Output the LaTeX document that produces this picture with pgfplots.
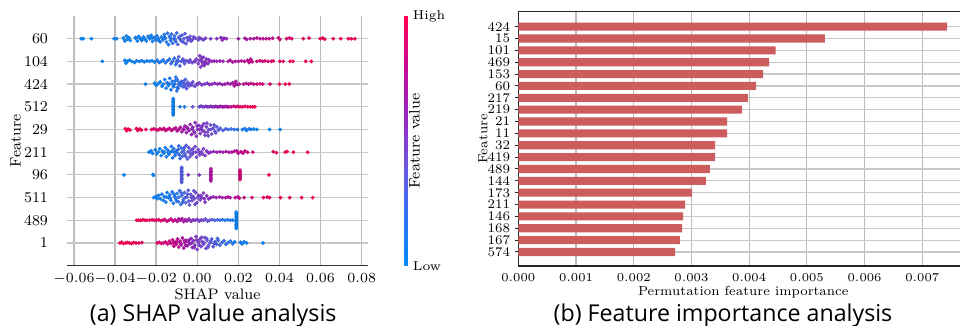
\documentclass[border=0pt]{standalone}
\usepackage{pgfplots}
\pgfplotsset{compat=1.18}
\usepackage{fontspec}
\newfontfamily\capfont{Open Sans}
\definecolor{barred}{RGB}{205,92,92}
\definecolor{gridc}{RGB}{188,188,188}
\definecolor{rowc}{RGB}{200,200,200}
\pgfplotsset{
 colormap={shap}{rgb255=(0,139,251) rgb255=(50,115,245) rgb255=(110,85,225) rgb255=(150,40,195) rgb255=(200,10,150) rgb255=(255,0,82)},
 sc/.style={scatter, only marks, scatter src=explicit, mark=*, mark size=0.9pt,
   mark options={line width=0.1pt}},
}
\begin{document}
\begin{tikzpicture}
\useasboundingbox (0,0) rectangle (480pt,163pt);
\begin{axis}[
 at={(33.5pt,30.15pt)}, anchor=south west, scale only axis,
 width=150.5pt, height=124.85pt,
 xmin=-0.0634, xmax=0.0831, ymin=-1, ymax=10,
 axis x line*=bottom, axis y line*=left,
 x axis line style={draw=black!80, line width=0.6pt, -},
 y axis line style={draw=none},
 xtick={-0.06,-0.04,-0.02,0,0.02,0.04,0.06,0.08},
 xticklabels={$-0.06$,$-0.04$,$-0.02$,$0.00$,$0.02$,$0.04$,$0.06$,$0.08$},
 scaled x ticks=false,
 ytick={0,...,9},
 yticklabels={1,489,511,96,211,29,512,424,104,60},
 xmajorgrids, ymajorgrids,
 major x grid style={gridc, line width=0.7pt},
 major y grid style={rowc, line width=0.6pt},
 tick style={draw=none},
 xticklabel style={font=\fontsize{6.6}{8}\selectfont, yshift=-0.2pt},
 yticklabel style={font=\fontsize{7.5}{9}\selectfont, xshift=-6pt},
 xlabel={SHAP value}, ylabel={Feature},
 xlabel style={font=\fontsize{7.6}{9}\selectfont, at={(axis description cs:0.5,-0.1145)}, anchor=center},
 ylabel style={font=\fontsize{7.5}{9}\selectfont, at={(axis description cs:-0.171,0.5)}, anchor=center},
 colormap name=shap, point meta min=0, point meta max=1,
 colorbar,
 colorbar style={
   at={(parent axis.south east)}, anchor=south west, xshift=9.5pt,
   scale only axis, width=1.85pt, height=124.85pt,
   axis line style={draw=none},
   ytick={0,1}, yticklabels={Low,High},
   yticklabel style={font=\fontsize{6.4}{8}\selectfont, xshift=-1pt},
   ytick style={draw=none},
   ylabel={Feature value},
   ylabel style={font=\fontsize{7.6}{9}\selectfont, at={(axis description cs:2.8,0.5)}, anchor=center},
 },
]
% feature 60
\addplot[sc] table[header=false, x index=0, y index=1, meta index=2]{
-0.0565 9 .02
-0.0555 9 .02
-0.0515 9 .02
-0.0405 9 .03
-0.0392 9 .03
-0.0360 9.03 .05
-0.0352 8.9 .05
-0.0345 9.12 .05
-0.0340 8.98 .05
-0.0333 9.05 .05
-0.0326 8.92 .05
-0.0300 9.02 .05
-0.0292 8.9 .06
-0.0285 9.1 .06
-0.0278 9 .06
-0.0270 8.92 .06
-0.0262 9.08 .06
-0.0255 9 .07
-0.0248 8.9 .07
-0.0240 9.1 .07
-0.0232 9 .07
-0.0225 9.15 .08
-0.0218 8.88 .08
-0.0210 9.05 .08
-0.0203 8.95 .08
-0.0196 9.12 .09
-0.0188 9 .09
-0.0181 8.86 .1
-0.0174 9.08 .1
-0.0167 8.95 .1
-0.0160 9.18 .12
-0.0155 9.02 .12
-0.0150 8.85 .12
-0.0145 9.24 .13
-0.0140 8.74 .14
-0.0135 9.1 .15
-0.0130 8.92 .15
-0.0125 9.2 .17
-0.0120 8.8 .18
-0.0115 9 .2
-0.0110 9.12 .22
-0.0105 8.88 .24
-0.0100 9.25 .26
-0.0095 8.75 .28
-0.0090 9.05 .3
-0.0082 8.95 .3
-0.0075 9.15 .32
-0.0068 8.85 .33
-0.0060 9.22 .34
-0.0055 8.78 .35
-0.0050 9.05 .36
-0.0045 8.92 .37
-0.0035 9.1 .38
-0.0025 8.95 .4
-0.0010 9.02 .42
0.0005 8.95 .44
0.0020 9 .46
0.0040 9.02 .48
0.0065 9 .52
0.0095 9 .55
0.0115 9.05 .58
0.0122 8.94 .58
0.0130 9.02 .6
0.0142 9 .6
0.0200 9 .66
0.0232 9.02 .7
0.0240 8.97 .7
0.0258 9 .72
0.0275 9 .73
0.0290 9.03 .75
0.0305 9 .76
0.0320 9 .77
0.0335 9 .78
0.0350 9 .8
0.0367 9.02 .82
0.0395 9.04 .85
0.0402 8.96 .85
0.0435 9 .88
0.0448 9.03 .9
0.0460 9 .9
0.0516 9 .93
0.0544 9.03 .95
0.0598 9 .96
0.0610 9.03 .97
0.0620 8.98 .97
0.0662 9 .98
0.0698 9 .99
0.0735 9 1
0.0750 9 1
0.0767 9 1
-0.0300 9.05 .05
-0.0270 8.97 .06
-0.0220 9.03 .08
-0.0190 8.93 .09
-0.0160 9.05 .11
-0.0130 9.02 .16
-0.0108 8.98 .23
-0.0085 9.1 .3
-0.0078 8.9 .31
-0.0065 9 .33
-0.0040 9 .37
-0.0030 8.9 .39
-0.0018 9.08 .41
0.0010 9.05 .45
0.0030 8.95 .47
};
% feature 104
\addplot[sc] table[header=false, x index=0, y index=1, meta index=2]{
-0.0462 8 .02
-0.0352 8.05 .04
-0.0348 7.92 .04
-0.0340 8 .05
-0.0330 8.05 .05
-0.0318 8 .05
-0.0305 7.95 .05
-0.0295 8.03 .06
-0.0282 8 .06
-0.0270 8.03 .06
-0.0258 7.98 .07
-0.0245 8.02 .07
-0.0232 8 .08
-0.0220 8.03 .08
-0.0208 7.97 .09
-0.0195 8.05 .1
-0.0185 7.95 .1
-0.0175 8 .11
-0.0165 8.06 .12
-0.0155 7.94 .13
-0.0145 8.02 .15
-0.0135 8.1 .17
-0.0128 7.9 .18
-0.0120 8 .2
-0.0112 8.14 .22
-0.0105 7.86 .24
-0.0098 8.05 .26
-0.0090 8.2 .28
-0.0085 7.8 .3
-0.0078 8 .32
-0.0070 8.1 .34
-0.0062 7.9 .36
-0.0055 8.03 .38
-0.0045 8 .4
-0.0035 8.06 .42
-0.0025 7.94 .44
-0.0015 8 .46
-0.0005 8.1 .48
0.0005 7.9 .5
0.0012 8.25 .52
0.0016 7.75 .52
0.0020 8.05 .52
0.0025 7.95 .53
0.0030 8.18 .54
0.0034 7.82 .54
0.0038 8 .55
0.0045 8.1 .56
0.0052 7.9 .57
0.0060 8.02 .58
0.0070 8 .6
0.0082 8.02 .62
0.0095 8 .63
0.0110 8.02 .64
0.0125 8 .66
0.0150 8 .7
0.0160 8.05 .7
0.0172 7.97 .72
0.0185 8 .73
0.0200 8 .75
0.0215 8.02 .76
0.0230 8 .78
0.0245 8.05 .8
0.0252 7.95 .8
0.0260 8.1 .82
0.0268 7.98 .82
0.0290 8 .85
0.0305 8.03 .86
0.0318 8 .88
0.0330 8.02 .88
0.0345 8 .9
0.0360 8 .91
0.0370 8.02 .92
0.0402 8 .94
0.0418 8 .95
0.0452 8 .96
0.0466 8 .97
0.0528 8 .99
0.0555 8 1
-0.0100 7.95 .25
-0.0092 8.02 .27
-0.0066 8 .35
-0.0040 7.96 .41
-0.0010 8 .47
0.0010 8.05 .51
0.0022 8.15 .53
0.0027 7.85 .53
0.0041 7.92 .55
0.0056 8.08 .57
0.0255 8.02 .81
};
% feature 424
\addplot[sc] table[header=false, x index=0, y index=1, meta index=2]{
-0.0252 7 .03
-0.0208 7.04 .04
-0.0200 6.94 .04
-0.0190 7.02 .05
-0.0180 7.1 .06
-0.0172 6.9 .06
-0.0165 7 .07
-0.0158 7.2 .08
-0.0152 6.82 .08
-0.0147 7.06 .09
-0.0140 6.94 .1
-0.0134 7.25 .1
-0.0128 6.75 .11
-0.0122 7.12 .12
-0.0116 6.88 .13
-0.0110 7 .14
-0.0104 7.3 .15
-0.0100 6.7 .16
-0.0096 7.18 .17
-0.0092 6.82 .18
-0.0088 7.05 .2
-0.0082 6.95 .22
-0.0076 7.12 .25
-0.0070 6.88 .27
-0.0064 7.02 .3
-0.0058 7.2 .32
-0.0052 6.8 .34
-0.0046 7.08 .36
-0.0040 6.92 .38
-0.0032 7 .4
-0.0022 7.1 .42
-0.0012 6.9 .44
-0.0002 7 .46
0.0010 7.05 .48
0.0022 6.97 .5
0.0035 7 .52
0.0048 7.04 .54
0.0060 6.98 .56
0.0072 7 .57
0.0085 7.03 .6
0.0098 7 .6
0.0110 7.02 .62
0.0122 6.98 .63
0.0135 7 .65
0.0148 7.03 .66
0.0160 7 .68
0.0172 7.06 .7
0.0180 6.92 .7
0.0188 7.12 .72
0.0195 6.98 .72
0.0205 7 .74
0.0225 7 .76
0.0238 7.03 .78
0.0250 7 .8
0.0262 7.03 .82
0.0275 7 .84
0.0290 7 .86
0.0305 7.02 .88
0.0318 7 .9
0.0354 7 .93
0.0400 7 .96
0.0428 7 .98
0.0448 7 1
-0.0136 7.02 .1
-0.0119 6.98 .12
-0.0106 7.15 .14
-0.0098 6.85 .16
-0.0090 6.98 .19
-0.0079 7.02 .24
-0.0067 7.1 .28
-0.0061 6.9 .31
-0.0049 6.98 .35
-0.0027 6.95 .41
0.0004 7 .47
0.0184 7 .71
};
% feature 512
\addplot[sc] table[header=false, x index=0, y index=1, meta index=2]{
-0.0117 5.64 .04
-0.0117 5.70 .04
-0.0117 5.76 .04
-0.0117 5.82 .04
-0.0117 5.88 .04
-0.0117 5.94 .04
-0.0117 6.00 .04
-0.0117 6.06 .04
-0.0117 6.12 .04
-0.0117 6.18 .04
-0.0117 6.24 .04
-0.0117 6.30 .04
-0.0117 6.36 .04
-0.0084 6 .08
-0.0062 6 .1
-0.0022 6 .4
0.0010 6 .45
0.0018 6.03 .46
0.0026 6 .47
0.0034 6 .48
0.0042 6.02 .5
0.0050 6 .52
0.0058 6 .53
0.0066 6.02 .55
0.0074 6 .56
0.0082 6 .58
0.0090 6.02 .6
0.0098 6 .62
0.0106 6 .63
0.0114 6.02 .65
0.0122 6 .67
0.0130 6 .68
0.0138 6.02 .7
0.0146 6 .72
0.0154 6 .75
0.0165 6 .8
0.0178 6.02 .85
0.0188 6 .88
0.0198 6.02 .9
0.0208 6 .92
0.0220 6 .93
0.0232 6.02 .95
0.0245 6 .96
0.0258 6 .97
0.0270 6 .98
0.0280 6 1
};
% feature 29
\addplot[sc] table[header=false, x index=0, y index=1, meta index=2]{
-0.0350 5.03 1
-0.0344 4.95 1
-0.0336 5.02 .99
-0.0328 4.98 .99
-0.0296 5.04 .98
-0.0290 4.96 .98
-0.0280 5.03 .97
-0.0272 4.98 .97
-0.0250 5 .95
-0.0222 5 .92
-0.0212 5.03 .91
-0.0202 5 .9
-0.0192 4.97 .89
-0.0182 5.03 .88
-0.0172 5 .87
-0.0162 5.05 .86
-0.0155 4.96 .85
-0.0145 5 .84
-0.0135 5.05 .83
-0.0125 4.96 .82
-0.0115 5.02 .8
-0.0105 5.07 .78
-0.0098 4.94 .77
-0.0090 5 .76
-0.0082 5.1 .74
-0.0075 4.9 .72
-0.0068 5.02 .7
-0.0060 5.15 .68
-0.0053 4.86 .66
-0.0046 5.05 .65
-0.0040 4.95 .63
-0.0034 5.22 .62
-0.0028 4.78 .6
-0.0022 5.1 .6
-0.0016 4.9 .58
-0.0010 5.3 .57
-0.0004 4.7 .56
0.0002 5 .55
0.0008 5.18 .54
0.0014 4.82 .53
0.0020 5.06 .52
0.0026 4.94 .51
0.0032 5.25 .5
0.0038 4.75 .49
0.0044 5.12 .48
0.0050 4.88 .47
0.0056 5 .46
0.0064 5.2 .44
0.0070 4.8 .42
0.0078 5.06 .4
0.0086 4.92 .38
0.0095 5.12 .36
0.0104 4.98 .34
0.0112 5.05 .32
0.0125 4.96 .3
0.0138 5.03 .28
0.0150 5 .25
0.0165 5.02 .22
0.0180 5 .2
0.0195 5 .16
0.0220 5 .12
0.0232 5.04 .1
0.0240 4.96 .08
0.0252 5.03 .07
0.0262 5 .06
0.0275 5.02 .05
0.0290 5 .04
0.0352 5 .03
0.0403 5 .02
-0.0064 5 .69
-0.0050 5.1 .65
-0.0025 5.02 .6
-0.0013 4.85 .57
-0.0001 5.15 .55
0.0011 5 .54
0.0023 5.15 .52
0.0035 4.9 .5
0.0047 5.28 .47
0.0053 4.72 .47
0.0067 5 .43
0.0082 5.2 .39
0.0090 4.85 .37
};
% feature 211
\addplot[sc] table[header=false, x index=0, y index=1, meta index=2]{
-0.0235 4 .03
-0.0225 4.06 .03
-0.0218 3.95 .04
-0.0205 4.1 .04
-0.0198 3.92 .05
-0.0190 4 .05
-0.0183 4.15 .06
-0.0176 3.85 .06
-0.0170 4.05 .07
-0.0163 3.95 .07
-0.0156 4.2 .08
-0.0150 3.8 .08
-0.0144 4.1 .09
-0.0138 3.9 .1
-0.0132 4 .11
-0.0126 4.25 .12
-0.0120 3.75 .13
-0.0114 4.15 .14
-0.0108 3.85 .15
-0.0102 4.05 .16
-0.0096 3.95 .18
-0.0090 4.28 .2
-0.0084 3.72 .22
-0.0078 4.18 .24
-0.0072 3.82 .26
-0.0066 4.08 .28
-0.0060 3.92 .3
-0.0054 4.3 .32
-0.0048 3.7 .34
-0.0042 4.2 .36
-0.0036 3.8 .38
-0.0030 4.1 .4
-0.0024 3.9 .42
-0.0018 4 .43
-0.0010 4.25 .44
-0.0004 3.78 .45
0.0004 4.12 .46
0.0012 3.88 .47
0.0020 4.02 .48
0.0030 4.15 .5
0.0038 3.85 .52
0.0046 4.05 .54
0.0055 3.96 .56
0.0065 4 .58
0.0080 4.03 .6
0.0095 4 .62
0.0110 4.02 .65
0.0125 4 .68
0.0140 4.03 .7
0.0155 4 .72
0.0168 4 .74
0.0180 4.04 .76
0.0192 4.06 .78
0.0200 3.95 .8
0.0212 4.02 .82
0.0222 3.96 .83
0.0232 4.05 .84
0.0245 4 .85
0.0270 4 .88
0.0370 4.02 .94
0.0385 3.98 .95
0.0428 4 .97
0.0437 4.03 .97
0.0468 4 .98
0.0537 4 1
-0.0160 4.02 .07
-0.0141 3.98 .1
-0.0123 4.05 .12
-0.0111 3.98 .14
-0.0093 4.12 .19
-0.0087 3.88 .21
-0.0075 4 .25
-0.0063 4.2 .29
-0.0057 3.82 .31
-0.0045 4.02 .35
-0.0033 3.95 .39
-0.0021 4.15 .42
-0.0007 4 .44
0.0008 4 .46
0.0025 3.92 .49
};
% feature 96
\addplot[sc] table[header=false, x index=0, y index=1, meta index=2]{
-0.0357 3 .02
-0.0215 3.02 .05
-0.0213 2.98 .05
-0.0076 2.67 .32
-0.0076 2.73 .32
-0.0076 2.79 .32
-0.0076 2.85 .32
-0.0076 2.91 .32
-0.0076 2.97 .32
-0.0076 3.03 .32
-0.0076 3.09 .32
-0.0076 3.15 .32
-0.0076 3.21 .32
-0.0076 3.27 .32
-0.0076 3.33 .32
-0.0044 3 .5
0.0010 3 .56
0.0066 2.73 .72
0.0066 2.79 .72
0.0066 2.85 .72
0.0066 2.91 .72
0.0066 2.97 .72
0.0066 3.03 .72
0.0066 3.09 .72
0.0066 3.15 .72
0.0066 3.21 .72
0.0066 3.27 .72
0.0208 2.79 .86
0.0208 2.85 .86
0.0208 2.91 .86
0.0208 2.97 .86
0.0208 3.03 .86
0.0208 3.09 .86
0.0208 3.15 .86
0.0208 3.21 .86
0.0349 3 .96
};
% feature 511
\addplot[sc] table[header=false, x index=0, y index=1, meta index=2]{
-0.0212 2 .03
-0.0202 2.05 .04
-0.0195 1.95 .04
-0.0188 2.1 .05
-0.0180 1.95 .05
-0.0172 2.15 .06
-0.0166 1.88 .06
-0.0160 2.04 .07
-0.0153 1.8 .08
-0.0147 2.22 .08
-0.0140 2 .09
-0.0134 2.12 .1
-0.0128 1.88 .11
-0.0122 2.25 .12
-0.0116 1.75 .13
-0.0110 2.05 .14
-0.0104 1.95 .15
-0.0098 2.18 .16
-0.0092 1.82 .18
-0.0086 2.3 .2
-0.0080 1.7 .22
-0.0074 2.1 .24
-0.0068 1.9 .26
-0.0062 2.22 .28
-0.0056 1.78 .3
-0.0050 2.02 .32
-0.0044 2.32 .34
-0.0038 1.68 .36
-0.0032 2.14 .38
-0.0026 1.86 .4
-0.0020 2.05 .42
-0.0014 1.95 .43
-0.0008 2.22 .44
-0.0002 1.78 .45
0.0006 2.1 .47
0.0014 1.9 .49
0.0022 2 .5
0.0030 2.2 .52
0.0038 1.8 .54
0.0046 2.08 .56
0.0055 1.94 .58
0.0065 2 .6
0.0078 2.03 .62
0.0092 2 .64
0.0108 2.02 .66
0.0122 2 .68
0.0138 2 .7
0.0150 2.02 .72
0.0160 2 .74
0.0185 2 .78
0.0198 2.03 .8
0.0205 1.97 .8
0.0228 2 .84
0.0266 2 .88
0.0322 2 .92
0.0340 2.02 .93
0.0352 2 .94
0.0405 2 .96
0.0450 2 .97
0.0508 2 .99
0.0562 2 1
-0.0150 2.02 .08
-0.0131 1.98 .1
-0.0113 2.15 .13
-0.0101 1.85 .15
-0.0089 2.02 .19
-0.0077 2.2 .23
-0.0071 1.8 .25
-0.0059 2 .29
-0.0047 2.15 .33
-0.0041 1.85 .35
-0.0029 2 .39
-0.0017 2.3 .42
-0.0011 1.7 .43
0.0002 2 .46
0.0018 2.08 .5
0.0034 1.95 .53
};
% feature 489
\addplot[sc] table[header=false, x index=0, y index=1, meta index=2]{
-0.0295 1 1
-0.0285 1 1
-0.0275 1 .99
-0.0265 1.02 .98
-0.0255 1 .98
-0.0245 1 .97
-0.0232 1 .96
-0.0220 1.02 .95
-0.0210 1 .94
-0.0198 1 .93
-0.0188 1.03 .92
-0.0178 0.98 .91
-0.0168 1 .9
-0.0158 1.04 .88
-0.0148 0.96 .86
-0.0138 1 .85
-0.0128 1.05 .83
-0.0118 0.97 .82
-0.0108 1.02 .8
-0.0098 0.95 .78
-0.0090 1.06 .76
-0.0082 1 .74
-0.0074 1.07 .72
-0.0066 0.94 .7
-0.0058 1.03 .67
-0.0050 0.97 .64
-0.0040 1.06 .6
-0.0030 0.96 .57
-0.0020 1.02 .54
-0.0010 1 .52
0.0000 1.04 .5
0.0010 0.96 .48
0.0020 1.02 .46
0.0030 1 .44
0.0040 1.05 .42
0.0050 0.96 .4
0.0060 1 .37
0.0072 1.03 .34
0.0085 1 .3
0.0098 1.02 .26
0.0110 1 .22
0.0122 1.03 .18
0.0135 1 .15
0.0148 1.02 .12
0.0160 1 .1
0.0172 1 .08
0.0190 0.64 .03
0.0190 0.70 .03
0.0190 0.76 .03
0.0190 0.82 .03
0.0190 0.88 .03
0.0190 0.94 .03
0.0190 1.00 .03
0.0190 1.06 .03
0.0190 1.12 .03
0.0190 1.18 .03
0.0190 1.24 .03
0.0190 1.30 .03
0.0190 1.36 .03
};
% feature 1
\addplot[sc] table[header=false, x index=0, y index=1, meta index=2]{
-0.0376 0 1
-0.0368 0.03 1
-0.0360 -0.02 1
-0.0348 0 .99
-0.0340 0.02 .99
-0.0330 0 .98
-0.0320 -0.02 .98
-0.0310 0.02 .97
-0.0298 0 .97
-0.0285 0 .96
-0.0270 0.02 .95
-0.0195 0 .92
-0.0185 0.03 .91
-0.0175 -0.02 .9
-0.0165 0 .88
-0.0155 0.04 .87
-0.0145 -0.05 .86
-0.0136 0.08 .85
-0.0128 -0.02 .84
-0.0120 0.14 .83
-0.0114 -0.14 .82
-0.0108 0.04 .81
-0.0102 -0.06 .8
-0.0096 0.18 .79
-0.0090 -0.18 .78
-0.0084 0.08 .76
-0.0078 -0.08 .75
-0.0072 0.22 .73
-0.0066 -0.22 .72
-0.0060 0.02 .7
-0.0054 0.12 .68
-0.0048 -0.12 .66
-0.0042 0.04 .64
-0.0036 -0.04 .62
-0.0030 0.2 .6
-0.0024 -0.2 .58
-0.0018 0.1 .56
-0.0012 -0.1 .55
-0.0006 0.28 .54
0.0000 -0.28 .52
0.0006 0.02 .5
0.0012 0.16 .48
0.0018 -0.16 .47
0.0024 0.06 .46
0.0030 -0.06 .44
0.0036 0.24 .43
0.0042 -0.24 .42
0.0048 0.12 .4
0.0054 -0.12 .38
0.0062 0 .36
0.0070 0.18 .34
0.0078 -0.16 .32
0.0086 0.06 .3
0.0094 -0.06 .28
0.0102 0.12 .26
0.0110 -0.1 .24
0.0120 0.02 .22
0.0130 0.1 .2
0.0140 -0.06 .18
0.0150 0.02 .16
0.0162 0.08 .14
0.0172 -0.04 .12
0.0182 0.05 .1
0.0210 0.03 .08
0.0218 -0.04 .07
0.0228 0.05 .06
0.0240 0 .05
0.0320 0 .03
-0.0117 0 .82
-0.0099 0.05 .79
-0.0081 -0.02 .76
-0.0063 0.1 .71
-0.0057 -0.1 .69
-0.0039 0.14 .63
-0.0027 0 .59
-0.0015 -0.2 .56
-0.0003 0.12 .53
0.0009 -0.1 .49
0.0021 0.25 .47
0.0033 0.02 .44
0.0045 0.2 .41
0.0051 -0.2 .39
0.0066 0.08 .35
0.0082 -0.02 .31
0.0098 0.2 .27
};
\end{axis}
\begin{axis}[
 at={(259.15pt,30pt)}, anchor=south west, scale only axis,
 width=223.35pt, height=127.15pt,
 xmin=0, xmax=0.00774, ymin=-1.18, ymax=20.26,
 xbar, bar width=0.68,
 axis line style={draw=black!85, line width=0.6pt},
 xtick={0,0.001,0.002,0.003,0.004,0.005,0.006,0.007},
 xticklabels={$0.000$,$0.001$,$0.002$,$0.003$,$0.004$,$0.005$,$0.006$,$0.007$},
 scaled x ticks=false,
 ytick={0,...,19},
 yticklabels={574,167,168,146,211,173,144,489,419,32,11,21,219,217,60,153,469,101,15,424},
 xmajorgrids, ymajorgrids,
 major x grid style={gridc, line width=0.6pt},
 major y grid style={rowc, line width=0.6pt},
 tick align=outside, major tick length=1.5pt,
 xtick style={draw=none},
 ytick style={draw=black!85, line width=0.5pt},
 xticklabel style={font=\fontsize{6.4}{8}\selectfont, yshift=1.3pt},
 yticklabel style={font=\fontsize{6.6}{7}\selectfont, xshift=1pt},
 xlabel={Permutation feature importance}, ylabel={Feature},
 xlabel style={font=\fontsize{6.56}{8}\selectfont, at={(axis description cs:0.5037,-0.1034)}, anchor=center},
 ylabel style={font=\fontsize{6.6}{8}\selectfont, at={(axis description cs:-0.079,0.5)}, anchor=center},
]
\addplot[fill=barred, draw=none] coordinates {
(0.002716,0) (0.0028,1) (0.002837,2) (0.002854,3) (0.00289,4)
(0.00301,5) (0.00325,6) (0.00332,7) (0.00341,8) (0.00341,9)
(0.003617,10) (0.003617,11) (0.003877,12) (0.00398,13) (0.00412,14)
(0.00424,15) (0.004345,16) (0.00446,17) (0.00531,18) (0.00743,19)
};
\end{axis}
\node[font=\capfont\fontsize{11.6}{13}\selectfont, anchor=base] at (106.6pt,2.15pt) {(a) SHAP value analysis};
\node[font=\capfont\fontsize{11.6}{13}\selectfont, anchor=base] at (361.5pt,2.15pt) {(b) Feature importance analysis};
\end{tikzpicture}
\end{document}
